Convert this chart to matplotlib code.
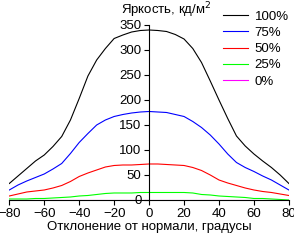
import matplotlib

matplotlib.use("Agg")
import matplotlib.pyplot as plt

plt.rcParams["font.family"] = ["Liberation Sans", "DejaVu Sans"]

# angle from normal, degrees
ANGLES = [-80, -75, -70, -65, -60, -55, -50, -45, -40, -35, -30, -25, -20,
          -15, -10, -5, 0, 5, 10, 15, 20, 25, 30, 35, 40, 45, 50, 55, 60,
          65, 70, 75, 80]

# brightness, cd/m2, per input level
L100 = [33, 48, 63, 78, 90, 107, 127, 160, 203, 248, 280, 303, 323,
        330, 336, 339, 340, 339, 337, 331, 322, 303, 275, 238, 200, 163,
        128, 108, 92, 78, 65, 50, 33]
L75 = [20, 30, 38, 45, 52, 62, 73, 93, 115, 133, 150, 160, 167,
       171, 174, 176, 177, 176, 175, 171, 167, 157, 145, 130, 112, 92,
       75, 65, 57, 48, 40, 30, 20]
L50 = [8, 12, 16, 18, 20, 24, 29, 37, 47, 54, 60, 66, 69,
       70, 70, 71, 72, 72, 71, 70, 69, 65, 59, 50, 40, 34,
       29, 24, 20, 17, 15, 12, 9]
L25 = [2, 2, 2, 3, 3, 4, 5, 6, 8, 9, 11, 13, 14,
       14, 14, 15, 15, 15, 15, 15, 15, 14, 11, 10, 8, 7,
       6, 5, 3, 3, 2, 1, 0]
L0 = [0, 0, 0, 0, 0, 0, 0, 0, 0, 0, 0, 0, 0,
      0, 0, 0, 0, 0, 0, 0, 0, 0, 0, 0, 0, 0,
      0, 0, 0, 0, 0, 0, 0]

SERIES = [("100%", L100, "#000000"), ("75%", L75, "#0000ff"),
          ("50%", L50, "#ff0000"), ("25%", L25, "#00ff00"),
          ("0%", L0, "#ff00ff")]

fig = plt.figure(figsize=(2.94, 2.42), dpi=100)
ax = fig.add_axes([0.0316, 0.1736, 0.951, 0.7231])

for label, vals, color in SERIES:
    ax.plot(ANGLES, vals, color=color, lw=0.8, label=label)

ax.set_xlim(-80, 80)
ax.set_ylim(0, 350)
ax.set_xticks(range(-80, 81, 20))
ax.set_yticks(range(0, 351, 50))

ax.spines["left"].set_position(("data", 0))
ax.spines["bottom"].set_position(("data", 0))
ax.spines["top"].set_visible(False)
ax.spines["right"].set_visible(False)
for s in ("left", "bottom"):
    ax.spines[s].set_linewidth(0.8)
ax.tick_params(direction="out", length=3.5, width=0.8, labelsize=9.5, pad=2)
ax.set_facecolor("none")

ax.text(10, 360, "Яркость, кд/м$^2$", ha="center", va="bottom", fontsize=9.5)
ax.set_xlabel("Отклонение от нормали, градусы", fontsize=9.5, labelpad=1)

ax.legend(loc="upper left", bbox_to_anchor=(0.74, 1.12), frameon=False,
          fontsize=9.5, handlelength=1.9, handletextpad=0.5,
          labelspacing=0.3, borderpad=0)

fig.savefig("out.png", dpi=100, facecolor="white")
